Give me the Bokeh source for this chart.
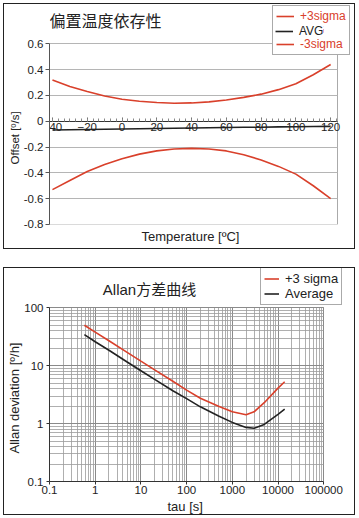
from bokeh.plotting import figure
from bokeh.models import (Legend, LegendItem, Title, FixedTicker, SingleIntervalTicker,
                          CustomJSTickFormatter, LogTicker, Label, BoxAnnotation, Grid)
from bokeh.layouts import column
from bokeh.embed import file_html
from bokeh.resources import INLINE

# ---------------- data: bias vs temperature ----------------
temperature = [-40, -30, -20, -10, 0, 10, 20, 30, 40, 50, 60, 70, 80, 90, 100, 110, 120]
plus_3sigma = [0.32, 0.27, 0.23, 0.195, 0.17, 0.155, 0.145, 0.14, 0.142, 0.15, 0.165,
               0.185, 0.21, 0.245, 0.29, 0.36, 0.44]
avg = [-0.068, -0.066, -0.064, -0.062, -0.06, -0.058, -0.056, -0.054, -0.052, -0.05,
       -0.048, -0.047, -0.046, -0.044, -0.043, -0.041, -0.04]
minus_3sigma = [-0.53, -0.46, -0.39, -0.335, -0.29, -0.255, -0.23, -0.215, -0.21, -0.215,
                -0.23, -0.26, -0.30, -0.35, -0.41, -0.50, -0.60]
offset_ticks = [-0.8, -0.6, -0.4, -0.2, 0, 0.2, 0.4, 0.6]
offset_bounds = (-0.8, 0.6)
temp_bounds = (-41.7, 124)

# ---------------- data: Allan deviation ----------------
tau = [0.58, 1, 2, 5, 10, 20, 50, 100, 200, 500, 1000, 2000, 3000, 5000, 10000, 14000]
allan_plus3 = [50, 38, 27, 17, 12, 8.5, 5.4, 3.8, 2.75, 2.0, 1.6, 1.42, 1.6, 2.3, 4.1, 5.3]
allan_avg = [34.4, 26, 18.5, 11.6, 8.2, 5.8, 3.7, 2.7, 1.95, 1.35, 1.05, 0.86, 0.83, 0.97, 1.45, 1.78]
tau_bounds = (0.1, 100000)
allan_bounds = (0.1, 100)

RED = "#d9402b"
BLK = "#222222"
FONT = "Liberation Sans"
CJK = "Liberation Sans, Noto Sans CJK SC"
TXT = "#222222"
HAS_CROSS = "cross_bounds" in Grid.properties()

W = 352          # outer width (incl. 1px css border)
# ================= panel 1 =================
# plot area: 290 x 179 px; the frame is extended up/right so the legend is not clipped
P1_L, P1_R, P1_B = 41, 2, 26
p1_xend = temp_bounds[0] + (W - 2 - P1_L - P1_R) * (temp_bounds[1] - temp_bounds[0]) / 290
p1_ytop = offset_bounds[1] + 39 * (offset_bounds[1] - offset_bounds[0]) / 179
p1 = figure(width=W, height=246, x_range=(temp_bounds[0], p1_xend),
            y_range=(offset_bounds[0] - 0.0005, p1_ytop),
            output_backend="svg", toolbar_location=None,
            min_border_left=P1_L, min_border_right=P1_R, min_border_top=0, min_border_bottom=P1_B)
p1.styles = {"border": "1px solid #222"}
p1.outline_line_color = None

r_p = p1.line(temperature, plus_3sigma, line_color=RED, line_width=1.6)
r_a = p1.line(temperature, avg, line_color=BLK, line_width=1.6)
r_m = p1.line(temperature, minus_3sigma, line_color=RED, line_width=1.6)

xa = p1.xaxis[0]
xa.fixed_location = 0
xa.bounds = temp_bounds
xa.ticker = SingleIntervalTicker(interval=20, num_minor_ticks=6)
xa.major_tick_in = 4
xa.major_tick_out = 0
xa.minor_tick_in = 3
xa.minor_tick_out = 0
xa.axis_line_color = "#333"
xa.major_tick_line_color = "#666"
xa.minor_tick_line_color = "#888"
xa.major_label_standoff = 2
xa.major_label_text_font = FONT
xa.major_label_text_font_size = "11.5px"
xa.major_label_text_color = TXT

p1.xgrid.ticker = FixedTicker(ticks=[temp_bounds[1]])
p1.xgrid.grid_line_color = "#aaaaaa"

ya = p1.yaxis[0]
ya.bounds = offset_bounds
ya.ticker = FixedTicker(ticks=offset_ticks)
ya.formatter = CustomJSTickFormatter(code="return Number(tick.toFixed(2)).toString();")
ya.minor_tick_line_color = None
ya.major_tick_out = 4
ya.major_tick_in = 0
ya.major_label_standoff = 2
ya.axis_line_color = "#555"
ya.major_tick_line_color = "#555"
ya.major_label_text_font = FONT
ya.major_label_text_font_size = "11.5px"
ya.major_label_text_color = TXT
p1.ygrid.grid_line_color = "#b5b5b5"

if HAS_CROSS:
    p1.xgrid.cross_bounds = offset_bounds
    p1.ygrid.cross_bounds = temp_bounds
else:
    p1.add_layout(BoxAnnotation(bottom=offset_bounds[1] + 0.004, fill_color="white", fill_alpha=1,
                                line_color=None, level="underlay"))
    p1.add_layout(BoxAnnotation(left=temp_bounds[1] + 0.3, fill_color="white", fill_alpha=1,
                                line_color=None, level="underlay"))

# axis titles (placed relative to the visible plot area, not the extended frame)
p1.add_layout(Title(text="Offset [º/s]", align="left", offset=60, text_font=FONT,
                    text_font_size="11.5px", text_font_style="normal",
                    text_color=TXT, standoff=0), "left")
p1.add_layout(Title(text="Temperature [ºC]", align="left", offset=92, text_font=FONT,
                    text_font_size="13px", text_font_style="normal",
                    text_color=TXT, standoff=4), "below")

p1.add_layout(Label(x=0, y=203, x_units="screen", y_units="screen", text="偏置温度依存性",
                    text_font=CJK, text_font_size="16px", text_color=TXT,
                    text_baseline="middle", text_align="left"))

leg1 = Legend(items=[LegendItem(label="+3sigma", renderers=[r_p]),
                     LegendItem(label="AVG", renderers=[r_a]),
                     LegendItem(label="-3sigma", renderers=[r_m])],
              location=(223, 169), padding=3, spacing=0, margin=0,
              glyph_width=18, glyph_height=14, label_height=14, label_standoff=6,
              label_text_font=FONT, label_text_font_size="12px", label_text_color=RED,
              border_line_color="#555", border_line_width=1, background_fill_alpha=1)
leg1b = Legend(items=[LegendItem(label="AVG", renderers=[r_a])],
               location=(223 + 3, 169 + 3 + 14), padding=0, spacing=0, margin=0,
               glyph_width=18, glyph_height=14, label_height=14, label_standoff=6,
               label_text_font=FONT, label_text_font_size="12px", label_text_color=BLK,
               border_line_color=None, background_fill_color="white", background_fill_alpha=1)
p1.add_layout(leg1, "center")
p1.add_layout(leg1b, "center")

# ================= panel 2 =================
P2_L, P2_R, P2_B = 41, 2, 35
dec_x = 46.0
dec_y = 57.33
p2_xend = tau_bounds[0] * 10 ** ((W - 2 - P2_L - P2_R) / dec_x)
p2_ytop = allan_bounds[1] * 10 ** (39 / dec_y)
p2 = figure(width=W, height=248, x_axis_type="log", y_axis_type="log",
            x_range=(tau_bounds[0], p2_xend), y_range=(allan_bounds[0], p2_ytop),
            output_backend="svg", toolbar_location=None,
            min_border_left=P2_L, min_border_right=P2_R, min_border_top=0, min_border_bottom=P2_B)
p2.styles = {"border": "1px solid #222"}
p2.outline_line_color = None

fmt = CustomJSTickFormatter(code="return Number(tick.toPrecision(6)).toString();")
for ax in (p2.xaxis[0], p2.yaxis[0]):
    ax.formatter = fmt
    ax.major_label_text_font = FONT
    ax.major_label_text_font_size = "11.5px"
    ax.major_label_text_color = TXT
    ax.major_tick_out = 3
    ax.major_tick_in = 0
    ax.minor_tick_line_color = None
    ax.major_label_standoff = 2
    ax.axis_line_color = "#333"
    ax.major_tick_line_color = "#333"
p2.xaxis[0].major_label_standoff = 0
p2.xaxis[0].ticker = LogTicker(num_minor_ticks=10, desired_num_ticks=7)
p2.yaxis[0].ticker = LogTicker(num_minor_ticks=10, desired_num_ticks=4)
p2.yaxis[0].bounds = allan_bounds
p2.xaxis[0].bounds = tau_bounds
for g in (p2.xgrid[0], p2.ygrid[0]):
    g.grid_line_color = "#8a8a8a"
    g.grid_line_width = 1
    g.minor_grid_line_color = "#9a9a9a"
    g.minor_grid_line_width = 0.8
if HAS_CROSS:
    p2.xgrid[0].cross_bounds = allan_bounds
    p2.ygrid[0].cross_bounds = tau_bounds
else:
    p2.add_layout(BoxAnnotation(bottom=allan_bounds[1] * 1.03, fill_color="white",
                                fill_alpha=1, line_color=None, level="underlay"))
    p2.add_layout(BoxAnnotation(left=tau_bounds[1] * 1.03, fill_color="white",
                                fill_alpha=1, line_color=None, level="underlay"))

p2.add_layout(Title(text="Allan deviation [º/h]", align="left", offset=28, text_font=FONT,
                    text_font_size="13px", text_font_style="normal",
                    text_color=TXT, standoff=0), "left")
p2.add_layout(Title(text="tau [s]", align="left", offset=118, text_font=FONT,
                    text_font_size="13px", text_font_style="normal",
                    text_color=TXT, standoff=0), "below")

r2p = p2.line(tau, allan_plus3, line_color=RED, line_width=1.6)
r2a = p2.line(tau, allan_avg, line_color=BLK, line_width=1.6)

p2.add_layout(Label(x=100, y=192.5, x_units="screen", y_units="screen", text="Allan方差曲线",
                    text_font=CJK, text_font_size="15px", text_color=TXT,
                    text_baseline="middle", text_align="center"))

leg2 = Legend(items=[LegendItem(label="+3 sigma", renderers=[r2p]),
                     LegendItem(label="Average", renderers=[r2a])],
              location=(211, 176), padding=3, spacing=0, margin=0,
              glyph_width=15, glyph_height=13, label_height=13, label_standoff=6,
              label_text_font=FONT, label_text_font_size="13px", label_text_color=TXT,
              border_line_color="#555", border_line_width=1, background_fill_alpha=1)
p2.add_layout(leg2, "center")

layout = column(p1, p2, spacing=18)
layout.styles = {"margin": "3px 0px 0px 3px"}

open("out.html", "w").write(file_html(layout, INLINE))
